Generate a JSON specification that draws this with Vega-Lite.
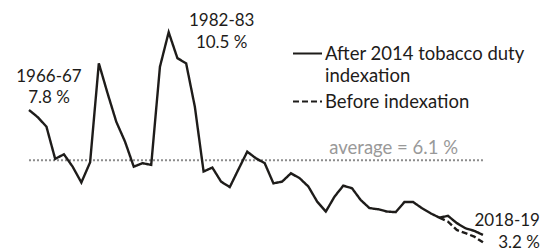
{
  "$schema": "https://vega.github.io/schema/vega-lite/v6.json",
  "width": 548,
  "height": 251,
  "padding": 0,
  "autosize": {"type": "none"},
  "background": "white",
  "config": {
    "view": {"stroke": null},
    "font": "Lato",
    "style": {"guide-label": {"lineHeight": 22.5}}
  },
  "datasets": {
    "series": [
      {"year": 1966, "value": 7.8, "series": "After 2014 tobacco duty indexation"},
      {"year": 1967, "value": 7.55, "series": "After 2014 tobacco duty indexation"},
      {"year": 1968, "value": 7.22, "series": "After 2014 tobacco duty indexation"},
      {"year": 1969, "value": 6.1, "series": "After 2014 tobacco duty indexation"},
      {"year": 1970, "value": 6.26, "series": "After 2014 tobacco duty indexation"},
      {"year": 1971, "value": 5.83, "series": "After 2014 tobacco duty indexation"},
      {"year": 1972, "value": 5.28, "series": "After 2014 tobacco duty indexation"},
      {"year": 1973, "value": 5.98, "series": "After 2014 tobacco duty indexation"},
      {"year": 1974, "value": 9.42, "series": "After 2014 tobacco duty indexation"},
      {"year": 1975, "value": 8.38, "series": "After 2014 tobacco duty indexation"},
      {"year": 1976, "value": 7.39, "series": "After 2014 tobacco duty indexation"},
      {"year": 1977, "value": 6.7, "series": "After 2014 tobacco duty indexation"},
      {"year": 1978, "value": 5.83, "series": "After 2014 tobacco duty indexation"},
      {"year": 1979, "value": 5.95, "series": "After 2014 tobacco duty indexation"},
      {"year": 1980, "value": 5.89, "series": "After 2014 tobacco duty indexation"},
      {"year": 1981, "value": 9.3, "series": "After 2014 tobacco duty indexation"},
      {"year": 1982, "value": 10.5, "series": "After 2014 tobacco duty indexation"},
      {"year": 1983, "value": 9.6, "series": "After 2014 tobacco duty indexation"},
      {"year": 1984, "value": 9.42, "series": "After 2014 tobacco duty indexation"},
      {"year": 1985, "value": 7.91, "series": "After 2014 tobacco duty indexation"},
      {"year": 1986, "value": 5.66, "series": "After 2014 tobacco duty indexation"},
      {"year": 1987, "value": 5.8, "series": "After 2014 tobacco duty indexation"},
      {"year": 1988, "value": 5.31, "series": "After 2014 tobacco duty indexation"},
      {"year": 1989, "value": 5.12, "series": "After 2014 tobacco duty indexation"},
      {"year": 1990, "value": 5.74, "series": "After 2014 tobacco duty indexation"},
      {"year": 1991, "value": 6.35, "series": "After 2014 tobacco duty indexation"},
      {"year": 1992, "value": 6.12, "series": "After 2014 tobacco duty indexation"},
      {"year": 1993, "value": 5.95, "series": "After 2014 tobacco duty indexation"},
      {"year": 1994, "value": 5.25, "series": "After 2014 tobacco duty indexation"},
      {"year": 1995, "value": 5.31, "series": "After 2014 tobacco duty indexation"},
      {"year": 1996, "value": 5.6, "series": "After 2014 tobacco duty indexation"},
      {"year": 1997, "value": 5.43, "series": "After 2014 tobacco duty indexation"},
      {"year": 1998, "value": 5.14, "series": "After 2014 tobacco duty indexation"},
      {"year": 1999, "value": 4.62, "series": "After 2014 tobacco duty indexation"},
      {"year": 2000, "value": 4.27, "series": "After 2014 tobacco duty indexation"},
      {"year": 2001, "value": 4.79, "series": "After 2014 tobacco duty indexation"},
      {"year": 2002, "value": 5.17, "series": "After 2014 tobacco duty indexation"},
      {"year": 2003, "value": 5.08, "series": "After 2014 tobacco duty indexation"},
      {"year": 2004, "value": 4.67, "series": "After 2014 tobacco duty indexation"},
      {"year": 2005, "value": 4.39, "series": "After 2014 tobacco duty indexation"},
      {"year": 2006, "value": 4.35, "series": "After 2014 tobacco duty indexation"},
      {"year": 2007, "value": 4.27, "series": "After 2014 tobacco duty indexation"},
      {"year": 2008, "value": 4.25, "series": "After 2014 tobacco duty indexation"},
      {"year": 2009, "value": 4.6, "series": "After 2014 tobacco duty indexation"},
      {"year": 2010, "value": 4.6, "series": "After 2014 tobacco duty indexation"},
      {"year": 2011, "value": 4.39, "series": "After 2014 tobacco duty indexation"},
      {"year": 2012, "value": 4.21, "series": "After 2014 tobacco duty indexation"},
      {"year": 2013, "value": 4.06, "series": "After 2014 tobacco duty indexation"},
      {"year": 2014, "value": 4.12, "series": "After 2014 tobacco duty indexation"},
      {"year": 2015, "value": 3.87, "series": "After 2014 tobacco duty indexation"},
      {"year": 2016, "value": 3.69, "series": "After 2014 tobacco duty indexation"},
      {"year": 2017, "value": 3.6, "series": "After 2014 tobacco duty indexation"},
      {"year": 2018, "value": 3.46, "series": "After 2014 tobacco duty indexation"},
      {"year": 2013, "value": 4.06, "series": "Before indexation"},
      {"year": 2014, "value": 3.92, "series": "Before indexation"},
      {"year": 2015, "value": 3.63, "series": "Before indexation"},
      {"year": 2016, "value": 3.52, "series": "Before indexation"},
      {"year": 2017, "value": 3.4, "series": "Before indexation"},
      {"year": 2018, "value": 3.2, "series": "Before indexation"}
    ]
  },
  "layer": [
    {
      "data": {"values": [{"start": 1966, "end": 2018, "avg": 6.05}]},
      "mark": {"type": "rule", "color": "#8c8c8c", "strokeWidth": 2, "strokeDash": [2, 2]},
      "encoding": {
        "x": {"field": "start", "type": "quantitative", "scale": {"domain": [1962.68, 2025.45], "nice": false, "zero": false}, "axis": null},
        "x2": {"field": "end"},
        "y": {"field": "avg", "type": "quantitative", "scale": {"domain": [2.9, 11.62], "nice": false, "zero": false}, "axis": null}
      }
    },
    {
      "data": {"values": [{"year": 2018, "avg": 6.05, "label": "average = 6.1 %"}]},
      "mark": {"type": "text", "align": "right", "baseline": "alphabetic", "dx": -25, "dy": -6, "fontSize": 18.5, "color": "#999999", "font": "Lato"},
      "encoding": {
        "x": {"field": "year", "type": "quantitative"},
        "y": {"field": "avg", "type": "quantitative"},
        "text": {"field": "label"}
      }
    },
    {
      "data": {"name": "series"},
      "mark": {"type": "line", "color": "#1e1c1a", "strokeWidth": 2.4, "strokeJoin": "miter"},
      "encoding": {
        "x": {"field": "year", "type": "quantitative"},
        "y": {"field": "value", "type": "quantitative"},
        "strokeDash": {
          "field": "series",
          "type": "nominal",
          "scale": {"domain": ["After 2014 tobacco duty indexation", "Before indexation"], "range": [[1, 0], [6, 3]]},
          "legend": {
            "orient": "none",
            "legendX": 292,
            "legendY": 38,
            "title": null,
            "padding": 0,
            "rowPadding": -10,
            "symbolType": "stroke",
            "symbolSize": 841,
            "symbolStrokeWidth": 2,
            "symbolStrokeColor": "#1e1c1a",
            "symbolFillColor": "transparent",
            "labelFont": "Lato",
            "labelFontSize": 18.5,
            "labelColor": "#1e1c1a",
            "labelLimit": 0,
            "labelOffset": 2,
            "labelExpr": "datum.label == 'After 2014 tobacco duty indexation' ? ['After 2014 tobacco duty', 'indexation'] : datum.label"
          }
        }
      }
    },
    {
      "data": {"values": [{"year": 1966, "value": 7.8, "label": "1966-67\n7.8 %"}]},
      "mark": {"type": "text", "align": "center", "baseline": "alphabetic", "lineBreak": "\n", "lineHeight": 21.5, "dx": 20, "dy": -28, "fontSize": 17, "color": "#1e1c1a", "font": "Lato"},
      "encoding": {
        "x": {"field": "year", "type": "quantitative"},
        "y": {"field": "value", "type": "quantitative"},
        "text": {"field": "label"}
      }
    },
    {
      "data": {"values": [{"year": 1982, "value": 10.5, "label": "1982-83\n10.5 %"}]},
      "mark": {"type": "text", "align": "center", "baseline": "alphabetic", "lineBreak": "\n", "lineHeight": 22, "dx": 53, "dy": -6, "fontSize": 17, "color": "#1e1c1a", "font": "Lato"},
      "encoding": {
        "x": {"field": "year", "type": "quantitative"},
        "y": {"field": "value", "type": "quantitative"},
        "text": {"field": "label"}
      }
    },
    {
      "data": {"values": [{"year": 2018, "value": 3.2, "label": "2018-19\n3.2 %"}]},
      "mark": {"type": "text", "align": "right", "baseline": "alphabetic", "lineBreak": "\n", "lineHeight": 21.5, "dx": 57, "dy": -16, "fontSize": 17, "color": "#1e1c1a", "font": "Lato"},
      "encoding": {
        "x": {"field": "year", "type": "quantitative"},
        "y": {"field": "value", "type": "quantitative"},
        "text": {"field": "label"}
      }
    }
  ]
}
